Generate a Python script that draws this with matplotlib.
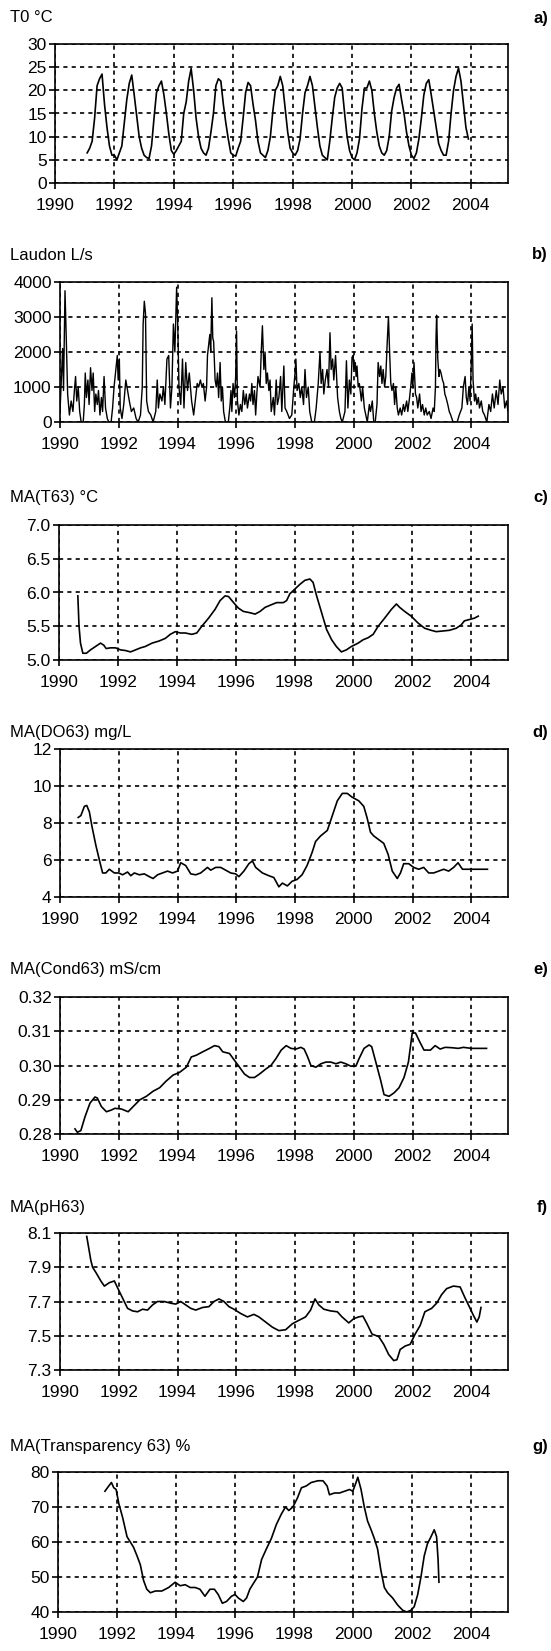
import numpy as np
import matplotlib
matplotlib.use("Agg")
import matplotlib.pyplot as plt

plt.rcParams['font.family'] = ['Liberation Sans', 'DejaVu Sans']

# a) T0 monthly, Feb 1991 .. Dec 2003
t0_start = 1991 + 1 / 12
t0_vals = [6.5, 7.5, 9.0, 14.0, 21.0, 22.5, 23.5, 17.0, 12.0, 8.0, 6.0,
           6.0, 5.0, 6.5, 8.0, 13.0, 18.0, 21.5, 23.3, 19.0, 14.5, 10.0, 7.5,
           6.0, 5.5, 5.3, 8.0, 14.0, 19.5, 21.0, 22.0, 19.0, 15.0, 10.5, 7.0,
           6.2, 7.0, 8.0, 9.0, 15.0, 17.5, 22.0, 24.7, 20.0, 14.0, 10.0, 7.5,
           6.5, 6.0, 7.5, 11.0, 15.0, 21.0, 22.5, 22.0, 17.0, 13.0, 9.5, 6.5,
           6.0, 5.8, 7.5, 9.0, 14.0, 19.5, 21.7, 21.0, 17.0, 13.5, 9.0, 6.5,
           6.0, 5.5, 7.0, 10.0, 15.5, 20.0, 21.0, 23.0, 21.0, 16.0, 11.0, 7.5,
           6.5, 6.0, 7.0, 9.5, 15.0, 19.5, 21.0, 23.0, 21.0, 16.5, 12.0, 8.0,
           6.0, 5.5, 5.0, 9.0, 14.0, 18.5, 20.5, 21.5, 20.5, 15.0, 10.0, 7.0,
           5.5, 5.0, 6.5, 9.5, 16.0, 20.5, 20.5, 22.0, 20.0, 15.0, 11.0, 8.0,
           6.5, 6.0, 7.0, 10.0, 15.5, 18.5, 20.5, 21.3, 18.0, 15.0, 11.0, 8.0,
           6.0, 5.3, 6.5, 9.5, 14.0, 19.0, 21.5, 22.3, 19.0, 15.5, 12.0, 8.5,
           7.0, 6.0, 6.0, 9.0, 15.0, 20.0, 23.0, 24.8, 22.0, 17.0, 12.0, 9.5]

# b) Laudon discharge L/s
laudon_t = [1990.00, 1990.09, 1990.12, 1990.17, 1990.21, 1990.26, 1990.32, 1990.38, 1990.44, 1990.49,
            1990.53, 1990.57, 1990.62, 1990.67, 1990.72, 1990.79, 1990.83, 1990.86, 1990.90, 1990.95,
            1990.99, 1991.04, 1991.09, 1991.13, 1991.18, 1991.22, 1991.27, 1991.31, 1991.36, 1991.41,
            1991.45, 1991.50, 1991.55, 1991.61, 1991.66, 1991.74, 1991.79, 1991.84, 1991.89, 1991.95,
            1991.98, 1992.02, 1992.05, 1992.11, 1992.17, 1992.24, 1992.30, 1992.36, 1992.43, 1992.51,
            1992.59, 1992.66, 1992.74, 1992.80, 1992.83, 1992.87, 1992.91, 1992.95, 1993.01, 1993.09,
            1993.17, 1993.26, 1993.31, 1993.35, 1993.40, 1993.47, 1993.52, 1993.57, 1993.64, 1993.70,
            1993.76, 1993.81, 1993.86, 1993.91, 1993.97, 1994.01, 1994.05, 1994.11, 1994.17, 1994.22,
            1994.28, 1994.34, 1994.40, 1994.48, 1994.55,
            1994.67, 1994.72, 1994.78, 1994.83, 1994.88, 1994.94, 1994.99, 1995.02, 1995.06, 1995.10,
            1995.13, 1995.17, 1995.20, 1995.23, 1995.28, 1995.32, 1995.36, 1995.40, 1995.45, 1995.49,
            1995.53, 1995.57, 1995.63, 1995.73, 1995.79, 1995.82, 1995.85, 1995.89, 1995.94, 1995.98,
            1996.01, 1996.04, 1996.09, 1996.14, 1996.19, 1996.24, 1996.29, 1996.34, 1996.38, 1996.45,
            1996.49, 1996.53, 1996.57, 1996.62, 1996.66, 1996.70, 1996.74, 1996.81, 1996.85, 1996.89,
            1996.94, 1996.98, 1997.02, 1997.06, 1997.11, 1997.15, 1997.19, 1997.26, 1997.30, 1997.36,
            1997.40, 1997.45, 1997.51, 1997.55, 1997.62, 1997.66, 1997.72, 1997.81, 1997.89, 1997.96,
            1998.00, 1998.03, 1998.07, 1998.13, 1998.18, 1998.23, 1998.29, 1998.34, 1998.39, 1998.45,
            1998.50, 1998.57, 1998.66, 1998.72, 1998.79, 1998.85, 1998.89, 1998.94, 1998.98, 1999.03,
            1999.09, 1999.14, 1999.19, 1999.23, 1999.28, 1999.32, 1999.38,
            1999.45, 1999.51, 1999.56, 1999.61, 1999.70, 1999.75, 1999.80, 1999.85, 1999.90, 1999.94,
            1999.98, 2000.00, 2000.05, 2000.08, 2000.11, 2000.15, 2000.19, 2000.26, 2000.30, 2000.36,
            2000.41, 2000.46, 2000.53, 2000.57, 2000.63, 2000.68, 2000.73, 2000.79, 2000.83, 2000.88,
            2000.92, 2000.96, 2001.00, 2001.05, 2001.09, 2001.14, 2001.18, 2001.22, 2001.26, 2001.30,
            2001.35, 2001.39, 2001.43, 2001.48, 2001.52, 2001.58, 2001.63, 2001.69, 2001.73, 2001.80,
            2001.84, 2001.90, 2001.95, 2001.98, 2002.01, 2002.05, 2002.10, 2002.14, 2002.18, 2002.24,
            2002.29, 2002.34, 2002.40, 2002.45, 2002.50, 2002.57, 2002.63, 2002.70, 2002.74, 2002.78,
            2002.80, 2002.82, 2002.86, 2002.90, 2002.93, 2002.97, 2003.02, 2003.06, 2003.10, 2003.14,
            2003.20, 2003.25, 2003.30, 2003.38, 2003.52, 2003.59, 2003.68, 2003.73, 2003.79, 2003.83,
            2003.87, 2003.92, 2003.96, 2004.00, 2004.03, 2004.06, 2004.11, 2004.15, 2004.19, 2004.24,
            2004.28, 2004.34, 2004.39, 2004.45, 2004.53, 2004.60, 2004.66, 2004.72, 2004.78, 2004.85,
            2004.91, 2004.97, 2005.02, 2005.08, 2005.14, 2005.20, 2005.25]
laudon_q = [300, 2100, 900, 3750, 2500, 800, 200, 600, 300, 900,
            1300, 600, 1000, 300, 0, 0, 500, 1400, 700, 1200,
            500, 1550, 900, 1400, 300, 800, 500, 900, 200, 700,
            300, 1300, 400, 100, 0, 0, 400, 1000, 1400, 1900,
            1200, 1800, 400, 100, 500, 1200, 900, 600, 300, 400,
            100, 0, 200, 1000, 2800, 3450, 3100, 600, 300, 200,
            0, 300, 1200, 400, 800, 600, 1000, 500, 1800, 1900,
            400, 1000, 2800, 2000, 3850, 2700, 1000, 500, 1800, 400,
            1700, 900, 1400, 600, 200,
            1100, 1000, 1200, 1000, 1100, 600, 1000, 1900, 2200, 2500,
            2000, 3550, 2400, 2300, 1200, 1000, 1400, 700, 1700, 600,
            1000, 300, 0, 0, 500, 900, 300, 1100, 700, 1300,
            2600, 600, 200, 500, 300, 900, 500, 800, 400, 800,
            600, 1100, 500, 900, 200, 800, 1300, 1000, 2000, 2750,
            1500, 2000, 1100, 1400, 900, 1200, 300, 700, 200, 1200,
            500, 700, 1300, 300, 1600, 400, 300, 100, 200, 1000,
            1400, 1800, 900, 1100, 700, 1000, 500, 1500, 700, 1000,
            300, 0, 0, 400, 1100, 2000, 1100, 1500, 800, 1200,
            1500, 1000, 2550, 1500, 1800, 1200, 1900,
            700, 300, 100, 0, 300, 1750, 400, 1200, 800, 1850,
            1900, 1500, 1700, 1300, 1600, 1000, 1100, 600, 1000, 400,
            200, 0, 500, 300, 600, 0, 0, 500, 1700, 1300,
            1600, 1100, 1500, 1000, 1300, 2300, 3000, 2000, 1100, 900,
            1100, 500, 1000, 400, 200, 400, 200, 500, 300, 600,
            300, 700, 1100, 1400, 1000, 1700, 800, 700, 400, 800,
            300, 500, 200, 400, 200, 300, 100, 400, 300, 1000,
            2400, 3050, 1800, 1300, 1500, 1400, 1200, 1100, 800, 700,
            500, 300, 200, 0, 0, 200, 400, 1000, 1300, 700,
            500, 1000, 600, 1700, 2800, 1200, 600, 800, 500, 700,
            400, 600, 300, 200, 0, 500, 300, 800, 400, 900,
            500, 1200, 800, 1000, 400, 600, 300]

# c) MA(T63)
c_t = [1990.64, 1990.68, 1990.73, 1990.81, 1990.93, 1991.07, 1991.24, 1991.41, 1991.52, 1991.60,
       1991.75, 1991.92, 1992.09, 1992.26, 1992.43, 1992.60, 1992.77, 1992.93, 1993.16, 1993.39,
       1993.61, 1993.78, 1993.95, 1994.12, 1994.29, 1994.51, 1994.68, 1994.85, 1995.08, 1995.30,
       1995.47, 1995.64, 1995.76, 1995.93, 1996.09, 1996.26, 1996.49, 1996.66, 1996.83, 1997.00,
       1997.22, 1997.39, 1997.62, 1997.73, 1997.84, 1998.01, 1998.18, 1998.35, 1998.52, 1998.63,
       1998.75, 1998.92, 1999.09, 1999.26, 1999.42, 1999.59, 1999.76, 1999.93, 2000.16, 2000.33,
       2000.50, 2000.67, 2000.84, 2001.06, 2001.29, 2001.46, 2001.57, 2001.74, 2001.96, 2002.19,
       2002.42, 2002.64, 2002.81, 2003.04, 2003.26, 2003.49, 2003.66, 2003.77, 2003.94, 2004.11,
       2004.24]
c_v = [5.95, 5.50, 5.25, 5.10, 5.10, 5.15, 5.20, 5.25, 5.22, 5.17,
       5.18, 5.18, 5.15, 5.14, 5.12, 5.15, 5.18, 5.20, 5.25, 5.28,
       5.32, 5.38, 5.42, 5.40, 5.40, 5.38, 5.40, 5.50, 5.62, 5.75,
       5.88, 5.95, 5.94, 5.85, 5.77, 5.72, 5.70, 5.68, 5.72, 5.78,
       5.82, 5.85, 5.85, 5.88, 5.98, 6.05, 6.12, 6.18, 6.20, 6.15,
       5.95, 5.70, 5.45, 5.30, 5.20, 5.12, 5.15, 5.20, 5.25, 5.30,
       5.33, 5.38, 5.50, 5.62, 5.75, 5.83, 5.78, 5.72, 5.65, 5.55,
       5.47, 5.44, 5.42, 5.43, 5.44, 5.47, 5.52, 5.58, 5.60, 5.62,
       5.65]

# d) MA(DO63)
d_t = [1990.62, 1990.71, 1990.83, 1990.91, 1991.00, 1991.09, 1991.22, 1991.34, 1991.45, 1991.56,
       1991.68, 1991.85, 1992.00, 1992.13, 1992.30, 1992.41, 1992.53, 1992.70, 1992.87, 1993.04,
       1993.17, 1993.32, 1993.49, 1993.66, 1993.83, 1994.00, 1994.11, 1994.28, 1994.45, 1994.62,
       1994.79, 1995.02, 1995.13, 1995.30, 1995.47, 1995.64, 1995.81, 1995.98, 1996.09, 1996.26,
       1996.43, 1996.55, 1996.66, 1996.89, 1997.11, 1997.28, 1997.45, 1997.57, 1997.74, 1997.90,
       1998.07, 1998.24, 1998.41, 1998.58, 1998.70, 1998.87, 1999.10, 1999.27, 1999.44, 1999.61,
       1999.78, 1999.94, 2000.17, 2000.34, 2000.45, 2000.57, 2000.68, 2000.85, 2001.02, 2001.17,
       2001.31, 2001.48, 2001.59, 2001.70, 2001.87, 2002.04, 2002.21, 2002.38, 2002.55, 2002.72,
       2002.89, 2003.06, 2003.23, 2003.40, 2003.55, 2003.70, 2003.92, 2004.15, 2004.55]
d_v = [8.3, 8.4, 8.9, 8.95, 8.6, 7.8, 6.8, 6.0, 5.3, 5.3,
       5.5, 5.3, 5.3, 5.2, 5.35, 5.15, 5.3, 5.2, 5.25, 5.1,
       5.0, 5.2, 5.3, 5.4, 5.3, 5.4, 5.85, 5.7, 5.25, 5.2,
       5.3, 5.6, 5.45, 5.6, 5.6, 5.45, 5.3, 5.25, 5.1, 5.4,
       5.8, 5.95, 5.6, 5.3, 5.15, 5.05, 4.55, 4.75, 4.6, 4.85,
       4.95, 5.2, 5.7, 6.4, 7.0, 7.3, 7.6, 8.4, 9.2, 9.6,
       9.6, 9.4, 9.2, 8.9, 8.3, 7.5, 7.3, 7.1, 6.9, 6.3,
       5.4, 5.0, 5.3, 5.8, 5.8, 5.6, 5.5, 5.6, 5.3, 5.3,
       5.4, 5.5, 5.4, 5.6, 5.85, 5.5, 5.5, 5.5, 5.5]

# e) MA(Cond63)
e_t = [1990.51, 1990.59, 1990.71, 1990.85, 1991.02, 1991.19, 1991.27, 1991.41, 1991.58, 1991.75,
       1991.87, 1992.09, 1992.32, 1992.49, 1992.72, 1992.94, 1993.17, 1993.39, 1993.62, 1993.85,
       1994.07, 1994.30, 1994.47, 1994.64, 1994.86, 1995.09, 1995.26, 1995.41, 1995.54, 1995.77,
       1995.94, 1996.11, 1996.28, 1996.45, 1996.62, 1996.79, 1997.01, 1997.18, 1997.35, 1997.53,
       1997.70, 1997.86, 1998.03, 1998.20, 1998.31, 1998.43, 1998.54, 1998.71, 1998.88, 1999.05,
       1999.22, 1999.39, 1999.56, 1999.73, 1999.90, 2000.07, 2000.18, 2000.35, 2000.52, 2000.61,
       2000.75, 2000.92, 2001.03, 2001.20, 2001.37, 2001.54, 2001.71, 2001.86, 2001.99, 2002.10,
       2002.24, 2002.39, 2002.61, 2002.77, 2002.94, 2003.11, 2003.33, 2003.56, 2003.73, 2004.01,
       2004.52]
e_v = [0.2815, 0.2805, 0.2810, 0.2850, 0.2890, 0.2908, 0.2905, 0.2880, 0.2865, 0.2870,
       0.2875, 0.2873, 0.2865, 0.2880, 0.2900, 0.2910, 0.2925, 0.2935, 0.2955, 0.2972,
       0.2980, 0.2995, 0.3025, 0.3030, 0.3040, 0.3050, 0.3058, 0.3055, 0.3040, 0.3035,
       0.3015, 0.2995, 0.2975, 0.2965, 0.2965, 0.2975, 0.2990, 0.3000, 0.3020, 0.3045,
       0.3058, 0.3050, 0.3048, 0.3053, 0.3048, 0.3025, 0.3000, 0.2995, 0.3005, 0.3010,
       0.3010, 0.3005, 0.3010, 0.3005, 0.2998, 0.2998, 0.3020, 0.3050, 0.3060, 0.3055,
       0.3010, 0.2955, 0.2915, 0.2910, 0.2920, 0.2935, 0.2965, 0.3010, 0.3095, 0.3095,
       0.3070, 0.3045, 0.3045, 0.3058, 0.3048, 0.3053, 0.3052, 0.3050, 0.3053, 0.3050,
       0.3050]

# f) MA(pH63)
f_t = [1990.91, 1990.97, 1991.05, 1991.11, 1991.22, 1991.39, 1991.51, 1991.68, 1991.85, 1991.96,
       1992.13, 1992.30, 1992.47, 1992.64, 1992.81, 1992.98, 1993.15, 1993.32, 1993.55, 1993.77,
       1993.94, 1994.11, 1994.28, 1994.45, 1994.62, 1994.85, 1995.07, 1995.24, 1995.41, 1995.58,
       1995.75, 1995.92, 1996.15, 1996.38, 1996.60, 1996.77, 1997.00, 1997.23, 1997.45, 1997.68,
       1997.91, 1998.13, 1998.36, 1998.53, 1998.68, 1998.81, 1998.98, 1999.21, 1999.44, 1999.60,
       1999.83, 2000.00, 2000.17, 2000.31, 2000.45, 2000.62, 2000.85, 2001.02, 2001.19, 2001.36,
       2001.47, 2001.58, 2001.75, 2001.92, 2002.09, 2002.26, 2002.42, 2002.65, 2002.82, 2002.99,
       2003.16, 2003.39, 2003.62, 2003.79, 2003.96, 2004.07, 2004.19, 2004.27, 2004.33]
f_v = [8.08, 8.02, 7.94, 7.90, 7.87, 7.82, 7.79, 7.81, 7.82, 7.78,
       7.72, 7.66, 7.645, 7.64, 7.655, 7.65, 7.68, 7.70, 7.70, 7.69,
       7.685, 7.70, 7.68, 7.66, 7.65, 7.665, 7.67, 7.70, 7.715, 7.70,
       7.67, 7.655, 7.63, 7.61, 7.625, 7.61, 7.58, 7.55, 7.53, 7.535,
       7.57, 7.59, 7.61, 7.65, 7.715, 7.68, 7.655, 7.645, 7.64, 7.61,
       7.575, 7.60, 7.61, 7.615, 7.57, 7.51, 7.495, 7.45, 7.39, 7.355,
       7.36, 7.42, 7.44, 7.45, 7.51, 7.56, 7.64, 7.66, 7.69, 7.74,
       7.775, 7.79, 7.785, 7.72, 7.66, 7.62, 7.58, 7.61, 7.665]

# g) MA(Transparency 63)
g_t = [1991.59, 1991.72, 1991.81, 1991.89, 1991.97, 1992.06, 1992.19, 1992.34, 1992.45, 1992.56,
       1992.68, 1992.79, 1992.90, 1993.01, 1993.13, 1993.30, 1993.52, 1993.75, 1993.97, 1994.14,
       1994.31, 1994.48, 1994.65, 1994.81, 1994.98, 1995.15, 1995.30, 1995.43, 1995.57, 1995.71,
       1995.88, 1996.00, 1996.11, 1996.28, 1996.39, 1996.50, 1996.61, 1996.76, 1996.90, 1997.06,
       1997.23, 1997.40, 1997.57, 1997.71, 1997.82, 1997.96, 1998.11, 1998.25, 1998.41, 1998.58,
       1998.81, 1998.98, 1999.12, 1999.20, 1999.37, 1999.54, 1999.71, 1999.88, 1999.99, 2000.10,
       2000.16, 2000.27, 2000.38, 2000.49, 2000.61, 2000.72, 2000.83, 2000.94, 2001.06, 2001.17,
       2001.34, 2001.51, 2001.68, 2001.82, 2001.96, 2002.07, 2002.19, 2002.30, 2002.41, 2002.52,
       2002.64, 2002.75, 2002.83, 2002.88, 2002.91]
g_v = [74.5, 76, 77, 75.5, 75, 71, 67, 61.5, 60, 58.5,
       56, 53.5, 49, 46.5, 45.5, 46, 46, 47, 48.5, 47.5,
       47.8, 47, 47, 46.5, 44.5, 46.5, 46.5, 45, 42.5, 43,
       44.5, 45, 44, 43, 44, 46.5, 48, 50, 55, 58,
       61, 65, 68, 70, 69, 70, 72.5, 75.5, 76, 77,
       77.5, 77.5, 76, 73.5, 74, 74, 74.5, 75, 74.5, 77,
       78.5, 75, 70, 66, 63.5, 61, 58, 52, 47, 45.5,
       44, 42, 40.5, 40, 40.5, 41.5, 45, 50, 56, 59.5,
       61.5, 63.5, 61.5, 55, 48.5]

x_ticks = [1990, 1992, 1994, 1996, 1998, 2000, 2002, 2004]

W, H = 551, 1651
fig = plt.figure(figsize=(W / 100, H / 100), dpi=100)

# (left, right, top, bottom) in px, title, letter, yticks, fmt
panels = [
    ((55, 508, 44, 183), "T0 °C", "a)", [0, 5, 10, 15, 20, 25, 30], "{:.0f}"),
    ((60, 508, 282, 422), "Laudon L/s", "b)", [0, 1000, 2000, 3000, 4000], "{:.0f}"),
    ((59, 508, 525, 660), "MA(T63) °C", "c)", [5.0, 5.5, 6.0, 6.5, 7.0], "{:.1f}"),
    ((60, 508, 749, 897), "MA(DO63) mg/L", "d)", [4, 6, 8, 10, 12], "{:.0f}"),
    ((60, 508, 997, 1134), "MA(Cond63) mS/cm", "e)", [0.28, 0.29, 0.30, 0.31, 0.32], "{:.2f}"),
    ((60, 508, 1233, 1370), "MA(pH63)", "f)", [7.3, 7.5, 7.7, 7.9, 8.1], "{:.1f}"),
    ((58, 508, 1472, 1612), "MA(Transparency 63) %", "g)", [40, 50, 60, 70, 80], "{:.0f}"),
]
title_y = [18, 255, 497, 732, 969, 1207, 1446]

t0_t = t0_start + np.arange(len(t0_vals)) / 12
series = [(t0_t, t0_vals), (laudon_t, laudon_q), (c_t, c_v), (d_t, d_v),
          (e_t, e_v), (f_t, f_v), (g_t, g_v)]

for i, ((l, r, top, bot), title, letter, yt, fmt) in enumerate(panels):
    ax = fig.add_axes([l / W, 1 - bot / H, (r - l) / W, (bot - top) / H])
    x, y = series[i]
    ax.plot(x, y, color='black', lw=1.0 if i == 1 else 1.2)
    ax.set_xlim(1990, 2005.25)
    ax.set_ylim(yt[0], yt[-1])
    ax.set_xticks(x_ticks)
    ax.set_xticklabels([str(v) for v in x_ticks], fontsize=12.5)
    ax.set_yticks(yt)
    ax.set_yticklabels([fmt.format(v) for v in yt], fontsize=12.5)
    ax.tick_params(direction='out', length=4, width=1.2, pad=2)
    ax.tick_params(axis='x', pad=7)
    ax.grid(True, color='black', linestyle=(0, (2.5, 2.5)), lw=1.2)
    for s in ax.spines.values():
        s.set_linewidth(1.2)
    fig.text(10 / W, 1 - title_y[i] / H, title, fontsize=12, va='center', ha='left')
    fig.text(548 / W, 1 - title_y[i] / H, letter, fontsize=12, fontweight='bold', va='center', ha='right')

fig.savefig("out.png", dpi=100)
